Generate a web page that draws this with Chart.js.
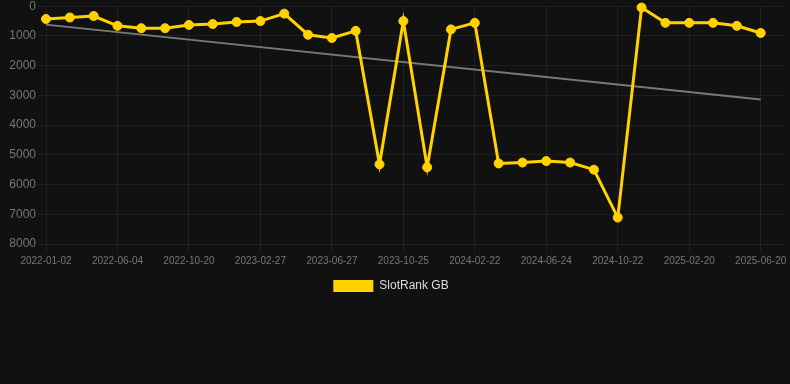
<!DOCTYPE html>
<html>
<head>
<meta charset="utf-8">
<script src="https://cdn.jsdelivr.net/npm/chart.js@4"></script>
<style>
  html, body { margin: 0; padding: 0; background: #111111; }
  #wrap { position: relative; width: 790px; height: 302px; }
</style>
</head>
<body>
<div id="wrap"><canvas id="c"></canvas></div>
<script>
const categories = [
  '2022-01-02','2022-02-22','2022-04-14','2022-06-04','2022-07-20','2022-09-04',
  '2022-10-20','2022-12-01','2023-01-14','2023-02-27','2023-04-08','2023-05-18',
  '2023-06-27','2023-08-06','2023-09-15','2023-10-25','2023-12-04','2024-01-13',
  '2024-02-22','2024-04-02','2024-05-13','2024-06-24','2024-08-03','2024-09-12',
  '2024-10-22','2024-12-01','2025-01-10','2025-02-20','2025-04-01','2025-05-11',
  '2025-06-20','2025-07-30'
];
const rankValues = [
  430, 380, 330, 660, 740, 740, 630, 600, 530, 500, 250, 960,
  1070, 830, 5320, 500, 5420, 780, 560, 5290, 5260, 5210, 5260, 5500,
  7110, 45, 560, 560, 560, 660, 900
];
const trendValues = [
  620, null, null, null, null, null, null, null, null, null, null, null,
  null, null, null, null, null, null, null, null, null, null, null, null,
  null, null, null, null, null, null, 3140
];
const yTicks = [0, 1000, 2000, 3000, 4000, 5000, 6000, 7000, 8000];

const gridColor = 'rgba(255,255,255,0.06)';

const legendShift = {
  id: 'legendShift',
  afterLayout(chart) {
    if (chart.legend) { chart.legend.left -= 4; chart.legend.right -= 4; }
  }
};

new Chart(document.getElementById('c'), {
  type: 'line',
  plugins: [legendShift],
  data: {
    labels: categories,
    datasets: [
      {
        label: 'SlotRank GB',
        data: rankValues,
        borderColor: '#FFD200',
        backgroundColor: '#FFD200',
        borderWidth: 3,
        pointRadius: 4.5,
        pointHoverRadius: 4.5,
        pointBorderWidth: 1,
        pointBackgroundColor: '#FFD200',
        pointBorderColor: '#FFD200',
        tension: 0,
        clip: false,
        order: 1
      },
      {
        label: 'trend',
        data: trendValues,
        spanGaps: true,
        borderColor: 'rgba(140,140,140,0.85)',
        borderWidth: 2,
        pointRadius: 0,
        tension: 0,
        order: 2
      }
    ]
  },
  options: {
    responsive: true,
    maintainAspectRatio: false,
    animation: false,
    layout: { padding: 0 },
    plugins: {
      tooltip: { enabled: false },
      legend: {
        position: 'bottom',
        labels: {
          color: '#dddddd',
          font: { size: 12 },
          boxWidth: 40,
          boxHeight: 12,
          filter: (item) => item.text !== 'trend',
          generateLabels: (chart) => {
            const items = Chart.defaults.plugins.legend.labels.generateLabels(chart);
            items.forEach(it => { it.lineWidth = 0; });
            return items;
          }
        }
      }
    },
    scales: {
      x: {
        offset: false,
        grid: {
          color: (ctx) => (ctx.index % 3 === 0 && ctx.index < 31) ? gridColor : 'transparent',
          tickLength: 8
        },
        border: { display: false },
        ticks: {
          autoSkip: false,
          maxRotation: 0,
          color: '#777777',
          font: { size: 10 },
          callback: function (v, i) { return (i % 3 === 0 && i < 31) ? categories[i] : ''; }
        }
      },
      y: {
        reverse: true,
        min: 0,
        max: 8000,
        afterBuildTicks: (axis) => { axis.ticks = yTicks.map(v => ({ value: v })); },
        afterFit: (axis) => { axis.width = 46; },
        grid: { color: gridColor, tickLength: 8 },
        border: { display: false },
        ticks: {
          color: '#777777',
          font: { size: 12, lineHeight: 0.7 },
          padding: 2,
          callback: (v) => String(v)
        }
      }
    }
  }
});
</script>
</body>
</html>
